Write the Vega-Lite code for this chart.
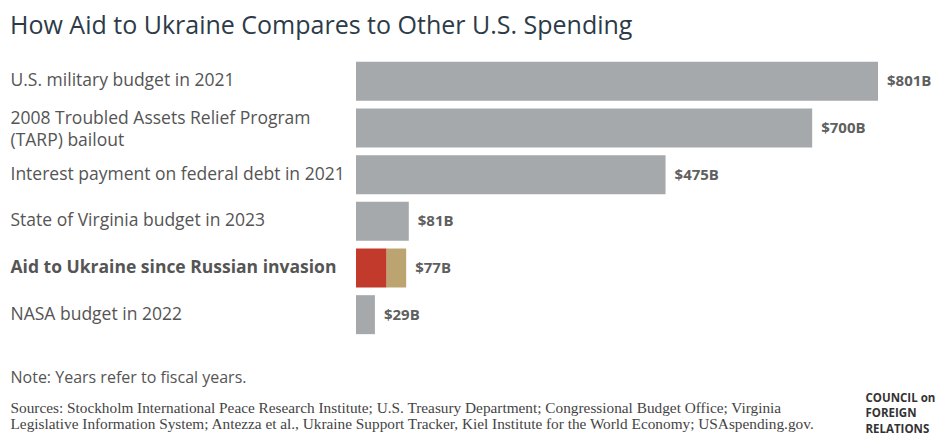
{
  "$schema": "https://vega.github.io/schema/vega-lite/v6.json",
  "autosize": "none",
  "width": 522,
  "height": 280,
  "padding": {"left": 356, "top": 58, "right": 65, "bottom": 101},
  "background": "white",
  "title": {
    "text": "How Aid to Ukraine Compares to Other U.S. Spending",
    "anchor": "start",
    "frame": "group",
    "dx": -346,
    "offset": 19,
    "font": "Open Sans",
    "fontSize": 25,
    "fontWeight": "normal",
    "color": "#2d3b48"
  },
  "config": {"view": {"stroke": null}},
  "data": {
    "values": [
      {"item": "U.S. military budget in 2021", "part": "Total", "amount": 801},
      {"item": "2008 Troubled Assets Relief Program (TARP) bailout", "part": "Total", "amount": 700},
      {"item": "Interest payment on federal debt in 2021", "part": "Total", "amount": 475},
      {"item": "State of Virginia budget in 2023", "part": "Total", "amount": 81},
      {"item": "Aid to Ukraine since Russian invasion", "part": "Military aid", "amount": 47},
      {"item": "Aid to Ukraine since Russian invasion", "part": "Other aid", "amount": 30},
      {"item": "NASA budget in 2022", "part": "Total", "amount": 29}
    ]
  },
  "layer": [
    {
      "mark": {"type": "bar"},
      "encoding": {
        "y": {
          "field": "item",
          "type": "nominal",
          "sort": null,
          "scale": {"paddingInner": 0.165, "paddingOuter": 0.0825},
          "axis": {
            "title": ["Sources: Stockholm International Peace Research Institute; U.S. Treasury Department; Congressional Budget Office; Virginia", "Legislative Information System; Antezza et al., Ukraine Support Tracker, Kiel Institute for the World Economy; USAspending.gov."],
            "titleAngle": 0,
            "titleAlign": "left",
            "titleBaseline": "top",
            "titleX": -346,
            "titleY": 342,
            "titleFont": "Liberation Serif",
            "titleFontSize": 15.3,
            "titleFontWeight": "normal",
            "titleColor": "#444",
            "titleLineHeight": 16,
            "domain": false,
            "ticks": false,
            "labelAlign": "left",
            "labelPadding": 346,
            "labelFont": "Open Sans",
            "labelFontSize": 17.5,
            "labelColor": "#555",
            "labelLineHeight": 22,
            "labelLimit": 400,
            "labelOffset": {"condition": {"test": "datum.value == '2008 Troubled Assets Relief Program (TARP) bailout'", "value": -9}, "value": 0},
            "labelFontWeight": {"condition": {"test": "datum.value == 'Aid to Ukraine since Russian invasion'", "value": "bold"}, "value": "normal"},
            "labelExpr": "datum.value == '2008 Troubled Assets Relief Program (TARP) bailout' ? ['2008 Troubled Assets Relief Program', '(TARP) bailout'] : datum.value"
          }
        },
        "x": {
          "field": "amount",
          "type": "quantitative",
          "stack": "zero",
          "scale": {"domain": [0, 801], "nice": false},
          "axis": {
            "title": "Note: Years refer to fiscal years.",
            "titleAnchor": "start",
            "titleAlign": "left",
            "titleBaseline": "top",
            "titleX": -346,
            "titleY": 31,
            "titleFont": "Open Sans",
            "titleFontSize": 16,
            "titleFontWeight": "normal",
            "titleColor": "#555",
            "domain": false,
            "ticks": false,
            "labels": false,
            "grid": false
          }
        },
        "color": {
          "field": "part",
          "type": "nominal",
          "scale": {"domain": ["Total", "Military aid", "Other aid"], "range": ["#a5a9ab", "#c23a2b", "#bba46f"]},
          "legend": null
        }
      }
    },
    {
      "transform": [
        {"aggregate": [{"op": "sum", "field": "amount", "as": "total"}], "groupby": ["item"]},
        {"calculate": "'$' + datum.total + 'B'", "as": "label"}
      ],
      "mark": {"type": "text", "align": "left", "baseline": "middle", "dx": 9, "font": "Open Sans", "fontSize": 15, "fontWeight": "bold", "color": "#5f5f5f"},
      "encoding": {
        "y": {
          "field": "item",
          "type": "nominal",
          "sort": ["U.S. military budget in 2021", "2008 Troubled Assets Relief Program (TARP) bailout", "Interest payment on federal debt in 2021", "State of Virginia budget in 2023", "Aid to Ukraine since Russian invasion", "NASA budget in 2022"],
          "scale": {"paddingInner": 0.165, "paddingOuter": 0.0825},
          "axis": {
            "orient": "right",
            "title": ["COUNCIL on", "FOREIGN", "RELATIONS"],
            "titleAngle": 0,
            "titleAlign": "left",
            "titleBaseline": "top",
            "titleX": -13,
            "titleY": 334,
            "titleFont": "Open Sans",
            "titleFontSize": 11.5,
            "titleFontWeight": "bold",
            "titleColor": "#333",
            "titleLineHeight": 15.7,
            "domain": false,
            "ticks": false,
            "labels": false,
            "grid": false
          }
        },
        "x": {"field": "total", "type": "quantitative", "scale": {"domain": [0, 801], "nice": false}},
        "text": {"field": "label", "type": "nominal"}
      }
    }
  ],
  "resolve": {"scale": {"y": "independent"}, "axis": {"y": "independent"}}
}
